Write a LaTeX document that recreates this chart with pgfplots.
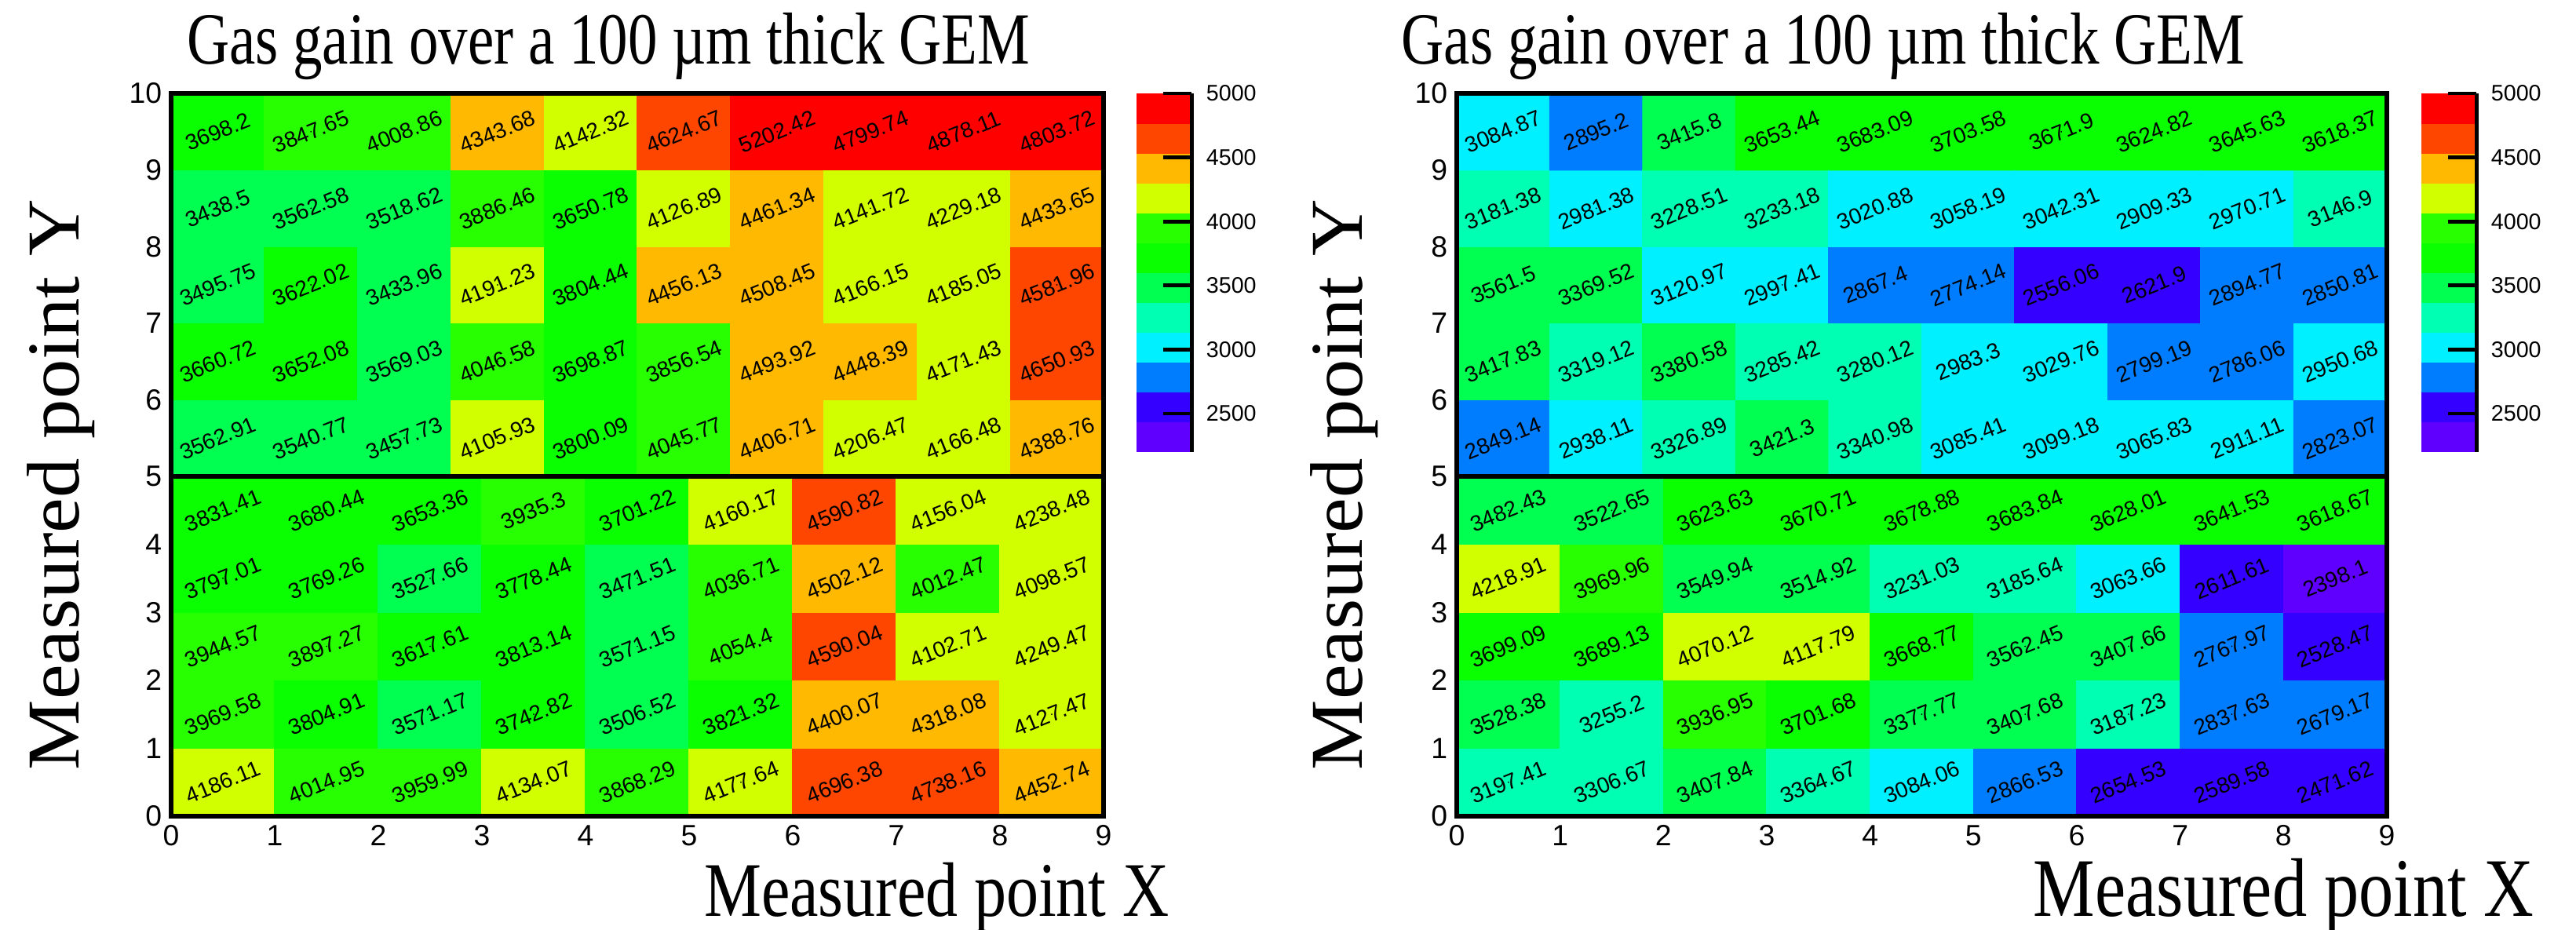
\documentclass[border=0pt]{standalone}
\usepackage{fontspec}
\setmainfont{Liberation Serif}
\setsansfont{Liberation Sans}
\usepackage{graphicx}
\usepackage{pgfplots}
\usepackage{pgfplotstable}
\pgfplotsset{compat=1.18}

\pgfplotstableread{
x y z
0.45 5.5 3562.91
1.35 5.5 3540.77
2.25 5.5 3457.73
3.15 5.5 4105.93
4.05 5.5 3800.09
4.95 5.5 4045.77
5.85 5.5 4406.71
6.75 5.5 4206.47
7.65 5.5 4166.48
8.55 5.5 4388.76
0.45 6.5 3660.72
1.35 6.5 3652.08
2.25 6.5 3569.03
3.15 6.5 4046.58
4.05 6.5 3698.87
4.95 6.5 3856.54
5.85 6.5 4493.92
6.75 6.5 4448.39
7.65 6.5 4171.43
8.55 6.5 4650.93
0.45 7.5 3495.75
1.35 7.5 3622.02
2.25 7.5 3433.96
3.15 7.5 4191.23
4.05 7.5 3804.44
4.95 7.5 4456.13
5.85 7.5 4508.45
6.75 7.5 4166.15
7.65 7.5 4185.05
8.55 7.5 4581.96
0.45 8.5 3438.5
1.35 8.5 3562.58
2.25 8.5 3518.62
3.15 8.5 3886.46
4.05 8.5 3650.78
4.95 8.5 4126.89
5.85 8.5 4461.34
6.75 8.5 4141.72
7.65 8.5 4229.18
8.55 8.5 4433.65
0.45 9.5 3698.2
1.35 9.5 3847.65
2.25 9.5 4008.86
3.15 9.5 4343.68
4.05 9.5 4142.32
4.95 9.5 4624.67
5.85 9.5 5202.42
6.75 9.5 4799.74
7.65 9.5 4878.11
8.55 9.5 4803.72
}\LeftTop

\pgfplotstableread{
x y z
0.5 0.5 4186.11
1.5 0.5 4014.95
2.5 0.5 3959.99
3.5 0.5 4134.07
4.5 0.5 3868.29
5.5 0.5 4177.64
6.5 0.5 4696.38
7.5 0.5 4738.16
8.5 0.5 4452.74
0.5 1.5 3969.58
1.5 1.5 3804.91
2.5 1.5 3571.17
3.5 1.5 3742.82
4.5 1.5 3506.52
5.5 1.5 3821.32
6.5 1.5 4400.07
7.5 1.5 4318.08
8.5 1.5 4127.47
0.5 2.5 3944.57
1.5 2.5 3897.27
2.5 2.5 3617.61
3.5 2.5 3813.14
4.5 2.5 3571.15
5.5 2.5 4054.4
6.5 2.5 4590.04
7.5 2.5 4102.71
8.5 2.5 4249.47
0.5 3.5 3797.01
1.5 3.5 3769.26
2.5 3.5 3527.66
3.5 3.5 3778.44
4.5 3.5 3471.51
5.5 3.5 4036.71
6.5 3.5 4502.12
7.5 3.5 4012.47
8.5 3.5 4098.57
0.5 4.5 3831.41
1.5 4.5 3680.44
2.5 4.5 3653.36
3.5 4.5 3935.3
4.5 4.5 3701.22
5.5 4.5 4160.17
6.5 4.5 4590.82
7.5 4.5 4156.04
8.5 4.5 4238.48
}\LeftBot

\pgfplotstableread{
x y z
0.45 5.5 2849.14
1.35 5.5 2938.11
2.25 5.5 3326.89
3.15 5.5 3421.3
4.05 5.5 3340.98
4.95 5.5 3085.41
5.85 5.5 3099.18
6.75 5.5 3065.83
7.65 5.5 2911.11
8.55 5.5 2823.07
0.45 6.5 3417.83
1.35 6.5 3319.12
2.25 6.5 3380.58
3.15 6.5 3285.42
4.05 6.5 3280.12
4.95 6.5 2983.3
5.85 6.5 3029.76
6.75 6.5 2799.19
7.65 6.5 2786.06
8.55 6.5 2950.68
0.45 7.5 3561.5
1.35 7.5 3369.52
2.25 7.5 3120.97
3.15 7.5 2997.41
4.05 7.5 2867.4
4.95 7.5 2774.14
5.85 7.5 2556.06
6.75 7.5 2621.9
7.65 7.5 2894.77
8.55 7.5 2850.81
0.45 8.5 3181.38
1.35 8.5 2981.38
2.25 8.5 3228.51
3.15 8.5 3233.18
4.05 8.5 3020.88
4.95 8.5 3058.19
5.85 8.5 3042.31
6.75 8.5 2909.33
7.65 8.5 2970.71
8.55 8.5 3146.9
0.45 9.5 3084.87
1.35 9.5 2895.2
2.25 9.5 3415.8
3.15 9.5 3653.44
4.05 9.5 3683.09
4.95 9.5 3703.58
5.85 9.5 3671.9
6.75 9.5 3624.82
7.65 9.5 3645.63
8.55 9.5 3618.37
}\RightTop

\pgfplotstableread{
x y z
0.5 0.5 3197.41
1.5 0.5 3306.67
2.5 0.5 3407.84
3.5 0.5 3364.67
4.5 0.5 3084.06
5.5 0.5 2866.53
6.5 0.5 2654.53
7.5 0.5 2589.58
8.5 0.5 2471.62
0.5 1.5 3528.38
1.5 1.5 3255.2
2.5 1.5 3936.95
3.5 1.5 3701.68
4.5 1.5 3377.77
5.5 1.5 3407.68
6.5 1.5 3187.23
7.5 1.5 2837.63
8.5 1.5 2679.17
0.5 2.5 3699.09
1.5 2.5 3689.13
2.5 2.5 4070.12
3.5 2.5 4117.79
4.5 2.5 3668.77
5.5 2.5 3562.45
6.5 2.5 3407.66
7.5 2.5 2767.97
8.5 2.5 2528.47
0.5 3.5 4218.91
1.5 3.5 3969.96
2.5 3.5 3549.94
3.5 3.5 3514.92
4.5 3.5 3231.03
5.5 3.5 3185.64
6.5 3.5 3063.66
7.5 3.5 2611.61
8.5 3.5 2398.1
0.5 4.5 3482.43
1.5 4.5 3522.65
2.5 4.5 3623.63
3.5 4.5 3670.71
4.5 4.5 3678.88
5.5 4.5 3683.84
6.5 4.5 3628.01
7.5 4.5 3641.53
8.5 4.5 3618.67
}\RightBot

\pgfplotsset{
  colormap={rootpal}{
    rgb255(0cm)=(95,0,255) rgb255(1cm)=(52,0,255) rgb255(2cm)=(0,125,255)
    rgb255(3cm)=(0,240,255) rgb255(4cm)=(0,255,178) rgb255(5cm)=(0,255,80)
    rgb255(6cm)=(10,255,0) rgb255(7cm)=(40,255,0) rgb255(8cm)=(210,255,0)
    rgb255(9cm)=(255,185,0) rgb255(10cm)=(255,70,0) rgb255(11cm)=(255,0,0)
    rgb255(12cm)=(255,0,0)
  },
  rootaxis/.style={
    scale only axis, enlargelimits=false, axis on top,
    axis line style={line width=1.6pt},
    major tick length=0pt, minor tick num=0,
    tick label style={font=\sffamily\fontsize{11.2}{13}\selectfont},
    /pgf/number format/assume math mode=true,
    colormap name=rootpal, colormap access=piecewise constant,
    point meta min=2200, point meta max=5000,
    xmin=0, xmax=9,
  },
  rootbar/.style={
    colorbar right,
    colorbar style={
      at={(parent axis.north east)}, anchor=north west, xshift=#1,
      width=21.3pt, height=137.1pt, scale only axis,
      colormap access=piecewise constant,
      ytick={2500,3000,3500,4000,4500,5000},
      yticklabel style={font=\sffamily\fontsize{8.6}{10}\selectfont, xshift=2pt},
      /pgf/number format/assume math mode=true,
      /pgf/number format/1000 sep={},
      axis x line=none, axis y line*=right,
      y axis line style={-, line width=1.6pt},
      tick align=inside, major tick length=11pt,
      tick style={line width=1.4pt, black},
    },
  },
  cellnums/.style={
    only marks, mark=*, mark size=0.01pt, mark options={draw=none, fill=none},
    nodes near coords, point meta=explicit symbolic,
    nodes near coords style={anchor=center, rotate=22, text=black,
      font=\sffamily\fontsize{8.4}{9.5}\selectfont, inner sep=0pt},
  },
}

\begin{document}
\begin{tikzpicture}
\useasboundingbox (0,0) rectangle (984.6pt,355.5pt);

% ---------- left panel ----------
\begin{axis}[rootaxis, rootbar=3.9pt,
  at={(65.4pt,173.4pt)}, anchor=south west,
  width=356.4pt, height=146.4pt,
  ymin=5, ymax=10, xtick=\empty, ytick={5,6,7,8,9,10},
  title={\scalebox{1}[1.25]{Gas gain over a 100 µm thick GEM}},
  title style={at={(axis description cs:0.469,1)}, anchor=base, yshift=5.2pt,
    inner sep=0pt, font=\fontsize{22.5}{26}\selectfont},
]
\addplot[matrix plot*, mesh/cols=10, mesh/rows=5, point meta=explicit]
  table[x=x, y=y, meta=z]{\LeftTop};
\addplot[cellnums] table[x=x, y=y, meta=z]{\LeftTop};
\end{axis}

\begin{axis}[rootaxis,
  at={(65.4pt,43.5pt)}, anchor=south west,
  width=356.4pt, height=129.9pt,
  ymin=0, ymax=5, xtick={0,...,9}, ytick={0,...,4},
  xlabel={\scalebox{1}[1.2]{Measured point X}},
  xlabel style={at={(axis description cs:1.0707,-0.295)}, anchor=base east,
    inner sep=0pt, font=\fontsize{24.6}{28}\selectfont},
  ylabel={\scalebox{1.06}[1]{Measured point Y}},
  ylabel style={at={(axis description cs:-0.118,0.975)}, anchor=center,
    inner sep=0pt, font=\fontsize{28.5}{32}\selectfont},
]
\addplot[matrix plot*, mesh/cols=9, mesh/rows=5, point meta=explicit]
  table[x=x, y=y, meta=z]{\LeftBot};
\addplot[cellnums] table[x=x, y=y, meta=z]{\LeftBot};
\end{axis}

% ---------- right panel ----------
\begin{axis}[rootaxis, rootbar=4.5pt,
  at={(556.8pt,173.4pt)}, anchor=south west,
  width=355.5pt, height=146.4pt,
  ymin=5, ymax=10, xtick=\empty, ytick={5,6,7,8,9,10},
  title={\scalebox{1}[1.25]{Gas gain over a 100 µm thick GEM}},
  title style={at={(axis description cs:0.394,1)}, anchor=base, yshift=5.2pt,
    inner sep=0pt, font=\fontsize{22.5}{26}\selectfont},
]
\addplot[matrix plot*, mesh/cols=10, mesh/rows=5, point meta=explicit]
  table[x=x, y=y, meta=z]{\RightTop};
\addplot[cellnums] table[x=x, y=y, meta=z]{\RightTop};
\end{axis}

\begin{axis}[rootaxis,
  at={(556.8pt,43.5pt)}, anchor=south west,
  width=355.5pt, height=129.9pt,
  ymin=0, ymax=5, xtick={0,...,9}, ytick={0,...,4},
  xlabel={\scalebox{1}[1.2]{Measured point X}},
  xlabel style={at={(axis description cs:1.159,-0.295)}, anchor=base east,
    inner sep=0pt, font=\fontsize{26.5}{30}\selectfont},
  ylabel={\scalebox{1.06}[1]{Measured point Y}},
  ylabel style={at={(axis description cs:-0.121,0.975)}, anchor=center,
    inner sep=0pt, font=\fontsize{28.5}{32}\selectfont},
]
\addplot[matrix plot*, mesh/cols=9, mesh/rows=5, point meta=explicit]
  table[x=x, y=y, meta=z]{\RightBot};
\addplot[cellnums] table[x=x, y=y, meta=z]{\RightBot};
\end{axis}
\end{tikzpicture}
\end{document}
